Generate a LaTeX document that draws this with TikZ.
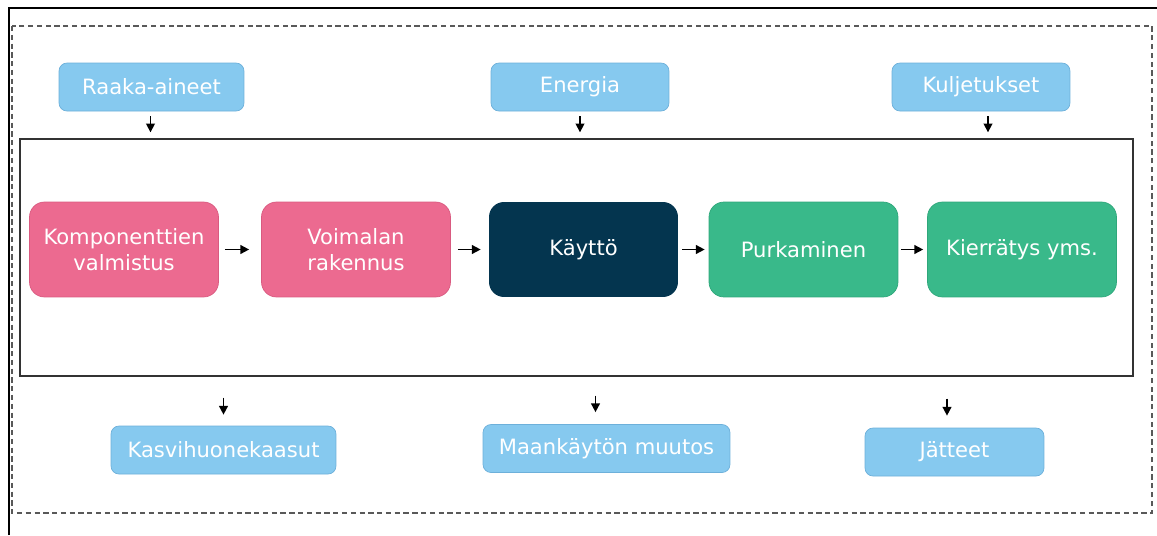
\documentclass[tikz,border=0pt]{standalone}
\usepackage{fontspec}
\setmainfont{DejaVu Sans}
\usetikzlibrary{arrows.meta}

\definecolor{vaaleansin}{HTML}{86C9EF}
\definecolor{vaaleansinreuna}{HTML}{6DB0DA}
\definecolor{pinkki}{HTML}{EC6A90}
\definecolor{pinkkireuna}{HTML}{D95A80}
\definecolor{tummansin}{HTML}{04354F}
\definecolor{vihrea}{HTML}{39B98A}
\definecolor{vihreareuna}{HTML}{2FA77B}

\begin{document}
\begin{tikzpicture}[x=0.02cm, y=-0.02cm,
    tieto/.style={draw=vaaleansinreuna, fill=vaaleansin, text=white,
        rounded corners=0.16cm, minimum height=0.96cm, inner sep=0pt,
        font=\fontsize{12}{14}\selectfont},
    vaihe/.style={rounded corners=0.3cm, minimum width=3.78cm,
        minimum height=1.9cm, text=white, align=center, inner sep=0pt,
        font=\fontsize{12}{14.5}\selectfont},
    nuoli/.style={-{Triangle[length=5pt,width=5pt]}, line width=0.9pt}]

    \useasboundingbox (0,0) rectangle (1157,535);

    % Kehykset
    \draw[line width=1.2pt] (9,535) -- (9,8) -- (1157,8);
    \draw[gray!70!black, line width=0.6pt, dash pattern=on 3pt off 2pt]
        (12,26) rectangle (1152,513);
    \node[draw=black!80, line width=0.8pt, minimum width=22.26cm,
        minimum height=4.74cm, inner sep=0pt] (kehys) at (576.5,257.5) {};

    % Panokset
    \node[tieto, minimum width=3.7cm] (raaka) at (151.5,87) {Raaka-aineet};
    \node[tieto, minimum width=3.56cm] (energia) at (580,87) {Energia};
    \node[tieto, minimum width=3.56cm] (kulj) at (981,87) {Kuljetukset};

    % Elinkaaren vaiheet
    \node[vaihe, fill=pinkki, draw=pinkkireuna] (komp) at (124,249.5)
        {Komponenttien\\valmistus};
    \node[vaihe, fill=pinkki, draw=pinkkireuna] (voim) at (356,249.5)
        {Voimalan\\rakennus};
    \node[vaihe, fill=tummansin] (kaytto) at (583.5,249.5) {Käyttö};
    \node[vaihe, fill=vihrea, draw=vihreareuna] (purk) at (803.5,249.5)
        {Purkaminen};
    \node[vaihe, fill=vihrea, draw=vihreareuna] (kierr) at (1022,249.5)
        {Kierrätys yms.};

    % Päästöt
    \node[tieto, minimum width=4.5cm] (kasvi) at (223.5,450) {Kasvihuonekaasut};
    \node[tieto, minimum width=4.94cm] (maank) at (606.5,448.5) {Maankäytön muutos};
    \node[tieto, minimum width=3.58cm] (jatteet) at (954.5,452) {Jätteet};

    % Nuolet panoksista
    \draw[nuoli, shorten <=0.1cm, shorten >=0.12cm]
        ([xshift=-0.02cm]raaka.south) -- ([xshift=-0.02cm]raaka.south |- kehys.north);
    \draw[nuoli, shorten <=0.1cm, shorten >=0.12cm]
        (energia.south) -- (energia.south |- kehys.north);
    \draw[nuoli, shorten <=0.1cm, shorten >=0.12cm]
        ([xshift=0.14cm]kulj.south) -- ([xshift=0.14cm]kulj.south |- kehys.north);

    % Nuolet vaiheiden välillä
    \foreach \a/\b/\s/\t in {komp/voim/0.12/0.24, voim/kaytto/0.14/0.16,
        kaytto/purk/0.08/0.08, purk/kierr/0.06/0.08}
        \draw[nuoli, shorten <=\s cm, shorten >=\t cm] (\a) -- (\b);

    % Nuolet päästöihin
    \draw[nuoli, shorten <=0.42cm, shorten >=0.22cm]
        (kasvi.north |- kehys.south) -- (kasvi.north);
    \draw[nuoli, shorten <=0.38cm, shorten >=0.24cm]
        ([xshift=-0.22cm]maank.north |- kehys.south) -- ([xshift=-0.22cm]maank.north);
    \draw[nuoli, shorten <=0.44cm, shorten >=0.24cm]
        ([xshift=-0.15cm]jatteet.north |- kehys.south) -- ([xshift=-0.15cm]jatteet.north);

\end{tikzpicture}
\end{document}
